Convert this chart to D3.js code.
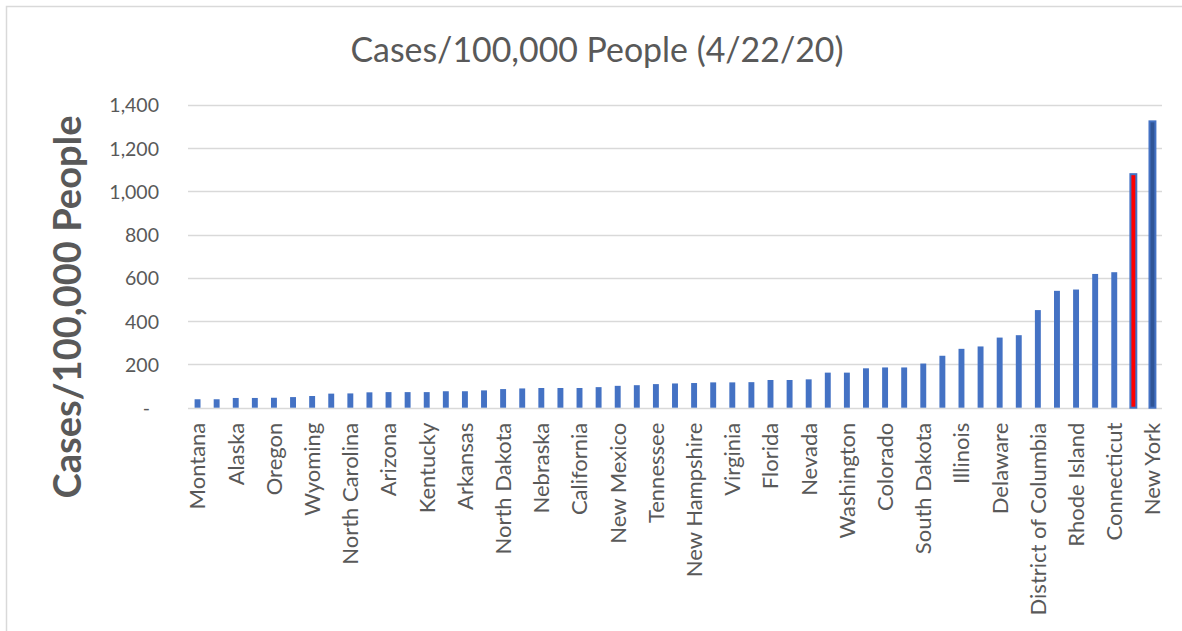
<!DOCTYPE html>
<html>
<head>
<meta charset="utf-8">
<script src="https://cdn.jsdelivr.net/npm/d3@7"></script>
<style>
  html, body { margin: 0; padding: 0; background: #fff; }
  svg { display: block; }
  text { font-family: Lato, "Open Sans", sans-serif; fill: #595959; }
</style>
</head>
<body>
<svg id="chart" width="1182" height="631"></svg>
<script>
const titleText = "Cases/100,000 People (4/22/20)";
const yAxisTitle = "Cases/100,000 People";

const states = [
  "Montana","Hawaii","Alaska","West Virginia","Oregon","Minnesota","Wyoming","Texas",
  "North Carolina","Kansas","Arizona","Oklahoma","Kentucky","Maine","Arkansas","Wisconsin",
  "North Dakota","Missouri","Nebraska","Idaho","California","Utah","New Mexico","Alabama",
  "Tennessee","South Carolina","New Hampshire","Ohio","Virginia","Iowa","Florida","Vermont",
  "Nevada","Mississippi","Washington","Georgia","Colorado","Indiana","South Dakota","Pennsylvania",
  "Illinois","Michigan","Delaware","Maryland","District of Columbia","Louisiana","Rhode Island",
  "Massachusetts","Connecticut","New Jersey","New York"
];

const casesPer100k = [
  39, 39, 45, 45, 46, 49, 54, 65,
  66, 71, 72, 72, 72, 76, 76, 80,
  86, 89, 91, 91, 91, 95, 101, 104,
  109, 112, 114, 117, 117, 118, 128, 128,
  131, 162, 162, 182, 186, 186, 204, 240,
  272, 283, 324, 335, 451, 540, 546,
  618, 626, 1079, 1323
];

const yTicks = [0, 200, 400, 600, 800, 1000, 1200, 1400];
const redState = "New Jersey";
const darkState = "New York";

const svg = d3.select("#chart");

// chart border
svg.append("rect")
  .attr("x", 6.5).attr("y", 6.5)
  .attr("width", 1190).attr("height", 640)
  .attr("fill", "none").attr("stroke", "#d9d9d9").attr("stroke-width", 1.5);

const plot = { left: 188, right: 1162, top: 104.7, bottom: 407.7 };

const x = d3.scaleBand()
  .domain(states)
  .range([plot.left, plot.right])
  .paddingInner(0.69)
  .paddingOuter(0.345);

const y = d3.scaleLinear()
  .domain([0, 1400])
  .range([plot.bottom, plot.top]);

function fitWidth(sel, target) {
  const fs = parseFloat(sel.attr("font-size"));
  const w = sel.node().getComputedTextLength();
  sel.attr("font-size", (fs * target / w).toFixed(2));
}

// gridlines
svg.append("g")
  .selectAll("line")
  .data(yTicks)
  .join("line")
  .attr("x1", plot.left).attr("x2", plot.right)
  .attr("y1", d => Math.round(y(d)) + 0.5)
  .attr("y2", d => Math.round(y(d)) + 0.5)
  .attr("stroke", "#d9d9d9").attr("stroke-width", 1.3);

// y axis labels
const yAxis = d3.axisLeft(y)
  .tickValues(yTicks)
  .tickSize(0)
  .tickPadding(0)
  .tickFormat(d => d === 0 ? "-" : d3.format(",")(d));

const yg = svg.append("g")
  .attr("transform", `translate(159,0)`)
  .call(yAxis);
yg.select(".domain").remove();
yg.selectAll("text")
  .attr("font-size", 19.5)
  .attr("fill", "#595959")
  .style("font-family", "Lato, 'Open Sans', sans-serif")
  .attr("dy", "0.36em")
  .attr("dx", d => d === 0 ? -9 : 0);

// bars
svg.append("g")
  .selectAll("rect")
  .data(states)
  .join("rect")
  .attr("x", d => x(d))
  .attr("width", x.bandwidth())
  .attr("y", (d, i) => y(casesPer100k[i]))
  .attr("height", (d, i) => y(0) - y(casesPer100k[i]))
  .attr("fill", d => d === redState ? "#ff0000" : d === darkState ? "#2f5597" : "#4472c4")
  .attr("stroke", d => (d === redState || d === darkState) ? "#4472c4" : "none")
  .attr("stroke-width", 2);

// x axis labels (every other)
const xAxis = d3.axisBottom(x)
  .tickValues(states.filter((d, i) => i % 2 === 0))
  .tickSize(0)
  .tickPadding(0);

const xg = svg.append("g")
  .attr("transform", `translate(0,${plot.bottom})`)
  .call(xAxis);
xg.select(".domain").remove();
xg.selectAll("text")
  .attr("font-size", 22)
  .attr("fill", "#595959")
  .style("font-family", "Lato, 'Open Sans', sans-serif")
  .attr("transform", "rotate(-90)")
  .attr("text-anchor", "end")
  .attr("x", -15)
  .attr("y", 0)
  .attr("dy", "0.36em");

// title
const t = svg.append("text")
  .attr("x", 597).attr("y", 62)
  .attr("text-anchor", "middle")
  .attr("font-size", 30)
  .text(titleText);
fitWidth(t, 493);

// y axis title
const yt = svg.append("text")
  .attr("transform", "translate(81,307) rotate(-90)")
  .attr("text-anchor", "middle")
  .attr("font-size", 34)
  .attr("font-weight", "bold")
  .text(yAxisTitle);
fitWidth(yt, 383);
</script>
</body>
</html>
